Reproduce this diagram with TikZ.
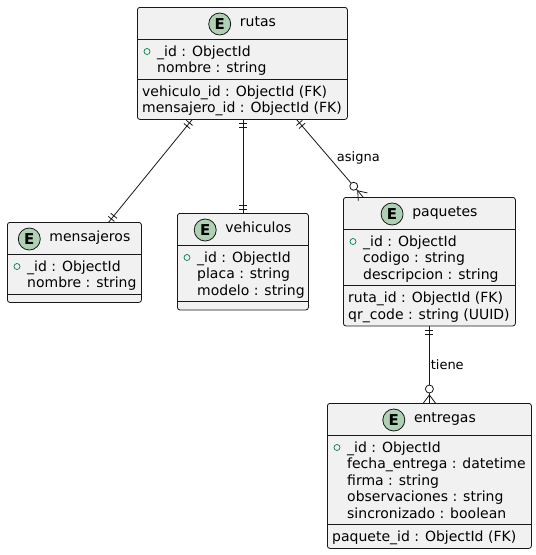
\documentclass[tikz,border=0pt]{standalone}
\usepackage{fontspec}
\setmainfont{DejaVu Sans}
\usetikzlibrary{calc,decorations.markings}

\definecolor{boxfill}{HTML}{F1F1F1}
\definecolor{ink}{HTML}{181818}
\definecolor{spot}{HTML}{ADD1B2}
\definecolor{vis}{HTML}{038048}

\tikzset{
  entity/.style={draw=ink, fill=boxfill, line width=0.8pt, rounded corners=2.5pt, inner sep=0pt},
  entline/.style={draw=ink, line width=0.8pt},
  spotmark/.style={circle, draw=ink, fill=spot, line width=0.8pt, minimum size=22pt, inner sep=0pt,
    font=\fontsize{15}{17}\selectfont\bfseries},
  ename/.style={inner sep=0pt, font=\fontsize{14}{16}\selectfont, anchor=mid},
  attr/.style={inner sep=0pt, font=\fontsize{14}{16}\selectfont, anchor=base west},
  vismark/.style={circle, draw=vis, line width=0.7pt, minimum size=6pt, inner sep=0pt},
  relation/.style={draw=ink, line width=0.8pt},
  rlabel/.style={inner sep=0pt, font=\fontsize{13}{15}\selectfont, anchor=mid west},
  % exactly-one marks (two bars) at the start / end of a relation
  onestart/.style={postaction={decorate, decoration={markings,
    mark=at position 4pt with {\draw[relation] (0pt,-4pt) -- (0pt,4pt);},
    mark=at position 8pt with {\draw[relation] (0pt,-4pt) -- (0pt,4pt);}}}},
  oneend/.style={postaction={decorate, decoration={markings,
    mark=at position -4pt with {\draw[relation] (0pt,-4pt) -- (0pt,4pt);},
    mark=at position -8pt with {\draw[relation] (0pt,-4pt) -- (0pt,4pt);}}}},
  % zero-or-many mark (ring and crow's foot) at the end of a relation
  manyend/.style={postaction={decorate, decoration={markings,
    mark=at position -8pt with {\draw[relation] (0pt,0pt) -- (8pt,-6pt) (0pt,0pt) -- (8pt,6pt);},
    mark=at position -14pt with {\draw[relation, fill=white] (0pt,0pt) circle (4pt);}}}},
}

% #1 name, #2 top-left corner, #3 width, #4 title,
% #5 number of key rows, #6 key rows, #7 number of other rows, #8 other rows
\newcommand\erentity[8]{%
  \pgfmathsetmacro\secA{7+16.5*#5}%
  \pgfmathsetmacro\secB{(#7==0)*8+(#7>0)*(7+16.5*#7)}%
  \pgfmathsetmacro\boxh{32+\secA+\secB}%
  \node[entity, minimum width=#3pt, minimum height=\boxh pt, anchor=north west] (#1) at #2 {};
  \draw[entline] ([yshift=-32pt]#1.north west) -- ([yshift=-32pt]#1.north east);
  \draw[entline] ([yshift={-(32+\secA)*1pt}]#1.north west) -- ([yshift={-(32+\secA)*1pt}]#1.north east);
  \node[ename] (#1-name) at ([xshift=15.5pt, yshift=-16.5pt]#1.north) {#4};
  \node[spotmark] (#1-spot) at ([xshift=-20pt, yshift=-0.5pt]#1-name.mid west) {E};
  \node[vismark] (#1-vis) at ([xshift=10pt, yshift=-44.5pt]#1.north west) {};
  \foreach \t [count=\i from 0] in {#6} {
    \node[attr] (#1-k\i) at ([xshift=20pt, yshift={-(49+16.5*\i)*1pt}]#1.north west) {\t};
  }
  \ifnum#7>0
    \foreach \t [count=\i from 0] in {#8} {
      \node[attr] (#1-f\i) at ([xshift=5pt, yshift={-(49+\secA+16.5*\i)*1pt}]#1.north west) {\t};
    }
  \fi
}

\begin{document}
\begin{tikzpicture}[x=1pt, y=-1pt]
  \useasboundingbox (0,0) rectangle (536,555);
  \fill[white] (0,0) rectangle (536,555);

  \erentity{rutas}{(137,7)}{210}{rutas}
    {2}{{\_id : ObjectId}, {nombre : string}}
    {2}{{vehiculo\_id : ObjectId (FK)}, {mensajero\_id : ObjectId (FK)}}
  \erentity{mensajeros}{(7,222)}{134}{mensajeros}
    {2}{{\_id : ObjectId}, {nombre : string}}
    {0}{}
  \erentity{vehiculos}{(177,213)}{131}{vehiculos}
    {3}{{\_id : ObjectId}, {placa : string}, {modelo : string}}
    {0}{}
  \erentity{paquetes}{(343,197)}{172}{paquetes}
    {3}{{\_id : ObjectId}, {codigo : string}, {descripcion : string}}
    {2}{{ruta\_id : ObjectId (FK)}, {qr\_code : string (UUID)}}
  \erentity{entregas}{(327,403)}{204}{entregas}
    {5}{{\_id : ObjectId}, {fecha\_entrega : datetime}, {firma : string}, {observaciones : string}, {sincronizado : boolean}}
    {1}{{paquete\_id : ObjectId (FK)}}

  % relations
  \draw[relation, onestart, oneend]
    ($(rutas.south west)+(55,0)$) -- ($(mensajeros.north east)+(-33,0)$);
  \draw[relation, onestart, oneend]
    (rutas.south -| vehiculos.north) -- (vehiculos.north);
  \draw[relation, onestart, manyend]
    ($(rutas.south east)+(-51,0)$) -- node[rlabel, pos=0.51, xshift=6pt] (asigna) {asigna}
    ($(paquetes.north west)+(20,0)$);
  \draw[relation, onestart, manyend]
    (paquetes.south) -- node[rlabel, pos=0.53, xshift=1pt] (tiene) {tiene} (entregas.north);
\end{tikzpicture}
\end{document}
